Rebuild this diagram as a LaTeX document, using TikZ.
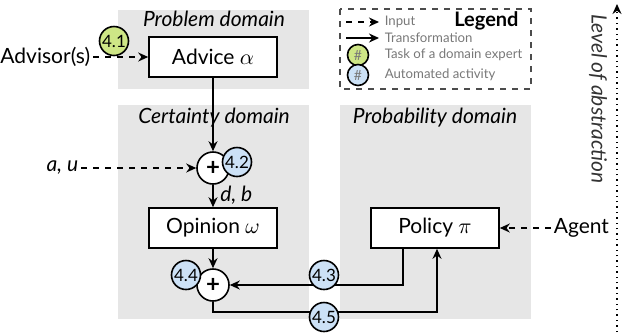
\documentclass[tikz,border=0pt]{standalone}
\usepackage{fontspec}
\setmainfont{Lato}
\usetikzlibrary{arrows.meta}

\definecolor{domaingray}{RGB}{230,230,230}
\definecolor{expertgreen}{RGB}{206,230,134}
\definecolor{autoblue}{RGB}{204,225,246}
\definecolor{legendtext}{RGB}{120,120,120}

\begin{document}
\begin{tikzpicture}[x=0.5pt,y=-0.5pt,line width=0.8pt,
  font=\fontsize{10.5}{12}\selectfont,
  arrow/.style={-{Stealth[length=5pt,width=4.5pt]}},
  input/.style={arrow,dashed},
  box/.style={draw,fill=white,minimum width=64pt,minimum height=20pt},
  plus/.style={draw,circle,fill=white,minimum size=16pt,inner sep=0pt,font=\fontsize{12}{12}\selectfont\bfseries},
  task/.style={draw,circle,fill=expertgreen,minimum size=14.5pt,inner sep=0pt,font=\fontsize{8.5}{9}\selectfont},
  auto/.style={draw,circle,fill=autoblue,minimum size=14.5pt,inner sep=0pt,font=\fontsize{8.5}{9}\selectfont},
  title/.style={font=\fontsize{10.5}{12}\selectfont\itshape}]

\useasboundingbox (0,0) rectangle (622,334);

% Draw domains
\fill[domaingray] (118,10) rectangle (309,89);
\fill[domaingray] (118,105) rectangle (309,319);
\fill[domaingray] (340,105) rectangle (531,319);
\node[title] (problem) at (214,19) {Problem domain};
\node[title] (certainty) at (214,118) {Certainty domain};
\node[title] (probability) at (435,118) {Probability domain};

% Draw boxes and operators
\node[box] (advice) at (213,57) {Advice $\alpha$};
\node[plus] (plusA) at (213,168) {+};
\node[box] (opinion) at (213,228) {Opinion $\omega$};
\node[plus] (plusB) at (213,285) {+};
\node[box] (policy) at (435,228) {Policy $\pi$};

% Draw inputs
\node[anchor=east,inner sep=1pt] (advisor) at (93,57) {Advisor(s)};
\node[anchor=east,inner sep=1pt] (au) at (81,168) {\textit{a, u}};
\node[anchor=west,inner sep=1pt] (agent) at (551,228) {Agent};
\draw[input] (advisor) -- (advice);
\draw[input] (au) -- (plusA);
\draw[input] (agent) -- (policy);

% Draw transformations
\draw[arrow] (advice) -- (plusA);
\draw[arrow] (plusA) -- node[right,pos=0.45] {\textit{d, b}} (opinion);
\draw[arrow] (opinion) -- (plusB);
\draw[arrow] ([xshift=-16pt]policy.south) |- (plusB);
\coordinate (loop) at (300,312);
\draw[arrow] (plusB) |- (loop) -| ([xshift=1pt]policy.south);

% Draw activities
\node[task] (t41) at (114,41) {4.1};
\node[auto] (t42) at (237,162) {4.2};
\node[auto] (t43) at (324,275) {4.3};
\node[auto] (t44) at (186,275) {4.4};
\node[auto] (t45) at (324,317) {4.5};

% Draw legend
\draw[dashed,draw=black!70] (340,9) rectangle (531,89);
\node[anchor=east,font=\fontsize{10}{12}\selectfont\bfseries] (legend) at (526,21) {Legend};
\begin{scope}[font=\fontsize{6.6}{8}\selectfont,text=legendtext]
\coordinate (inA) at (346,22);
\node[anchor=west,inner sep=0pt] (inputtext) at (384,22) {Input};
\draw[input,line width=0.7pt,shorten >=2.5pt] (inA) -- (inputtext);
\coordinate (trA) at (346,38);
\node[anchor=west,inner sep=0pt] (transtext) at (384,38) {Transformation};
\draw[arrow,line width=0.7pt,shorten >=2.5pt] (trA) -- (transtext);
\node[task,minimum size=10.5pt,font=\fontsize{7}{7}\selectfont] (legtask) at (358,55) {\#};
\node[anchor=west,inner sep=0pt] (tasktext) at (384,55) {Task of a domain expert};
\node[auto,minimum size=10.5pt,font=\fontsize{7}{7}\selectfont] (legauto) at (358,75) {\#};
\node[anchor=west,inner sep=0pt] (autotext) at (384,75) {Automated activity};
\end{scope}

% Draw level of abstraction
\coordinate (lvlA) at (617,332);
\coordinate (lvlB) at (617,4);
\draw[dotted,arrow,line width=0.7pt] (lvlA) -- (lvlB);
\node[title,rotate=-90,text=black!80] (level) at (598,99) {Level of abstraction};

\end{tikzpicture}
\end{document}
